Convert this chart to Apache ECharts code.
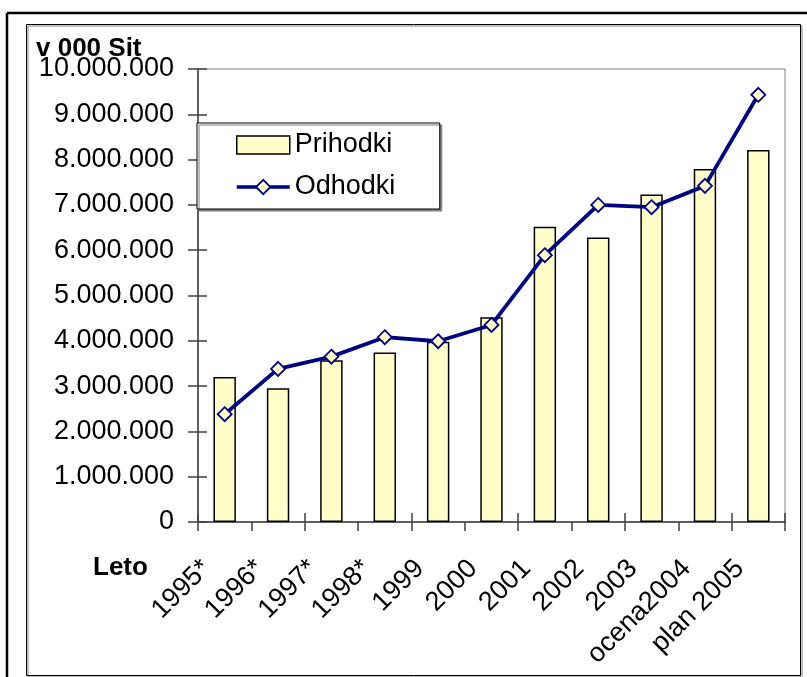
<!DOCTYPE html>
<html>
<head>
<meta charset="utf-8">
<script src="https://cdn.jsdelivr.net/npm/echarts@6/dist/echarts.min.js"></script>
<style>
html,body{margin:0;padding:0;background:#fff;}
#c{width:807px;height:677px;}
</style>
</head>
<body>
<div id="c"></div>
<script>
const categories = ['1995*', '1996*', '1997*', '1998*', '1999', '2000', '2001', '2002', '2003', 'ocena2004', 'plan 2005'];
const prihodki = [3200000, 2950000, 3570000, 3740000, 3980000, 4520000, 6520000, 6280000, 7230000, 7790000, 8210000];
const odhodki = [2380000, 3380000, 3650000, 4080000, 3990000, 4350000, 5890000, 7000000, 6950000, 7420000, 9430000];
const yTicks = { min: 0, max: 10000000, interval: 1000000 };
const yTitle = 'v 000 Sit';
const xTitle = 'Leto';

const FONT = 'Arial, "Liberation Sans", sans-serif';
const chart = echarts.init(document.getElementById('c'), null, { renderer: 'canvas' });

function fmt(v) {
  return String(Math.round(v)).replace(/\B(?=(\d{3})+(?!\d))/g, '.');
}

const gridBox = { left: 198, top: 69, right: 22, bottom: 155 };

chart.setOption({
  animation: false,
  backgroundColor: '#fff',
  grid: Object.assign({ show: true, borderColor: '#808080', borderWidth: 1, backgroundColor: 'transparent' }, gridBox),
  legend: {
    orient: 'vertical',
    left: 197, top: 123,
    padding: [7, 35, 7, 38],
    itemGap: 12,
    itemWidth: 53, itemHeight: 18,
    backgroundColor: '#fff',
    borderColor: '#000', borderWidth: 1,
    shadowColor: '#808080', shadowOffsetX: 2, shadowOffsetY: 2, shadowBlur: 0,
    textStyle: { fontFamily: FONT, fontSize: 27, color: '#000', lineHeight: 30, width: 110 },
    data: [
      { name: 'Prihodki', icon: 'rect', itemStyle: { color: '#FFFFCC', borderColor: '#000', borderWidth: 1.5 } },
      { name: 'Odhodki', lineStyle: { color: '#000080', width: 3.5 }, itemStyle: { color: '#FFFFCC', borderColor: '#000080', borderWidth: 1.8 } }
    ]
  },
  xAxis: [{
    type: 'category',
    data: categories,
    boundaryGap: true,
    axisLine: { lineStyle: { color: '#404040', width: 1.5 } },
    axisTick: { show: true, length: 9, lineStyle: { color: '#404040', width: 1.5 } },
    axisLabel: { rotate: 45, margin: 24, padding: [0, 26, 0, 0], fontFamily: FONT, fontSize: 27, color: '#000', interval: 0 },
    splitLine: { show: false }
  }, {
    type: 'category',
    data: categories,
    position: 'bottom',
    boundaryGap: true,
    axisLine: { show: false },
    axisTick: { show: true, inside: true, length: 9, lineStyle: { color: '#404040', width: 1.5 } },
    axisLabel: { show: false },
    splitLine: { show: false }
  }],
  yAxis: [{
    type: 'value',
    min: yTicks.min, max: yTicks.max, interval: yTicks.interval,
    axisLine: { show: true, lineStyle: { color: '#404040', width: 1.5 } },
    axisTick: { show: true, length: 10, lineStyle: { color: '#404040', width: 1.5 } },
    axisLabel: { margin: 24, fontFamily: FONT, fontSize: 27, color: '#000', formatter: fmt },
    splitLine: { show: false }
  }, {
    type: 'value',
    position: 'left',
    min: yTicks.min, max: yTicks.max, interval: yTicks.interval,
    axisLine: { show: false },
    axisTick: { show: true, inside: true, length: 9, lineStyle: { color: '#404040', width: 1.5 } },
    axisLabel: { show: false },
    splitLine: { show: false }
  }],
  series: [{
    name: 'Prihodki',
    type: 'bar',
    data: prihodki,
    barWidth: '42%',
    itemStyle: { color: '#FFFFCC', borderColor: '#000', borderWidth: 1.5 },
    z: 2
  }, {
    name: 'Odhodki',
    type: 'line',
    data: odhodki,
    symbol: 'diamond',
    symbolSize: 14,
    showAllSymbol: true,
    lineStyle: { color: '#000080', width: 3.8 },
    itemStyle: { color: '#FFFFCC', borderColor: '#000080', borderWidth: 1.8 },
    z: 3
  }],
  graphic: [
    { type: 'line', shape: { x1: 7, y1: 13, x2: 807, y2: 13 }, style: { stroke: '#000', lineWidth: 2.5 }, silent: true },
    { type: 'line', shape: { x1: 7, y1: 13, x2: 7, y2: 677 }, style: { stroke: '#000', lineWidth: 2.5 }, silent: true },
    { type: 'rect', shape: { x: 26.5, y: 24.5, width: 774, height: 651 }, style: { fill: 'none', stroke: '#000', lineWidth: 1, shadowColor: '#808080', shadowOffsetX: 1.5, shadowOffsetY: 1.5, shadowBlur: 0 }, silent: true, z: -10 },
    { type: 'text', left: 36, top: 36, style: { text: yTitle, font: 'bold 26px ' + FONT, fill: '#000' }, silent: true },
    { type: 'text', left: 93, top: 555, style: { text: xTitle, font: 'bold 26px ' + FONT, fill: '#000' }, silent: true }
  ]
});
</script>
</body>
</html>
